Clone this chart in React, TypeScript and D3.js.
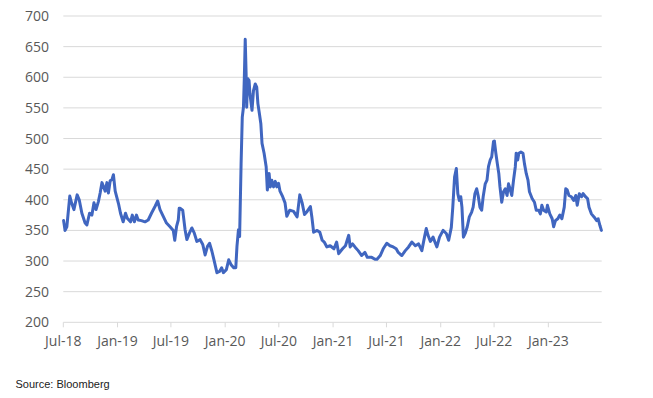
import React from "react";
import * as d3 from "d3";

const W = 653;
const H = 398;

const yTicks = [200, 250, 300, 350, 400, 450, 500, 550, 600, 650, 700];
const xTickDates = [
  "2018-07-01", "2019-01-01", "2019-07-01", "2020-01-01", "2020-07-01",
  "2021-01-01", "2021-07-01", "2022-01-01", "2022-07-01", "2023-01-01",
];
const sourceNote = "Source: Bloomberg";

// [date, value]
const series2018: [string, number][] = [
  ["2018-07-02", 366], ["2018-07-07", 350], ["2018-07-13", 356], ["2018-07-23", 406],
  ["2018-07-29", 395], ["2018-08-06", 384], ["2018-08-17", 408], ["2018-08-24", 400],
  ["2018-09-02", 378], ["2018-09-13", 362], ["2018-09-19", 359], ["2018-09-28", 378],
  ["2018-10-06", 375], ["2018-10-13", 395], ["2018-10-20", 384], ["2018-10-28", 397],
  ["2018-11-03", 411], ["2018-11-09", 428], ["2018-11-14", 422], ["2018-11-20", 414],
  ["2018-11-26", 428], ["2018-12-01", 411], ["2018-12-07", 431], ["2018-12-13", 433],
  ["2018-12-18", 441], ["2018-12-24", 414], ["2018-12-30", 403],
];
const series2019: [string, number][] = [
  ["2019-01-05", 392], ["2019-01-11", 378], ["2019-01-20", 364], ["2019-01-28", 378],
  ["2019-02-03", 370], ["2019-02-14", 364], ["2019-02-20", 375], ["2019-02-27", 364],
  ["2019-03-06", 375], ["2019-03-12", 367], ["2019-03-23", 366], ["2019-04-04", 364],
  ["2019-04-15", 367], ["2019-04-26", 378], ["2019-05-08", 389], ["2019-05-17", 398],
  ["2019-05-25", 384], ["2019-06-05", 373], ["2019-06-16", 362], ["2019-06-28", 356],
  ["2019-07-09", 350], ["2019-07-14", 334], ["2019-07-20", 356], ["2019-07-26", 367],
  ["2019-07-29", 386], ["2019-08-01", 386], ["2019-08-10", 383], ["2019-08-18", 351],
  ["2019-08-24", 335], ["2019-09-02", 346], ["2019-09-10", 354], ["2019-09-18", 346],
  ["2019-09-27", 332], ["2019-10-08", 335], ["2019-10-17", 327], ["2019-10-25", 310],
  ["2019-11-02", 324], ["2019-11-09", 329], ["2019-11-17", 316], ["2019-11-25", 300],
  ["2019-12-04", 281], ["2019-12-13", 283], ["2019-12-20", 289], ["2019-12-26", 281],
];
const series2020: [string, number][] = [
  ["2020-01-05", 286], ["2020-01-13", 302], ["2020-01-21", 294], ["2020-01-30", 289],
  ["2020-02-06", 289], ["2020-02-10", 324], ["2020-02-15", 351], ["2020-02-19", 340],
  ["2020-02-24", 459], ["2020-02-28", 535], ["2020-03-03", 551], ["2020-03-06", 600],
  ["2020-03-09", 662], ["2020-03-12", 606], ["2020-03-14", 551], ["2020-03-17", 598],
  ["2020-03-22", 595], ["2020-03-25", 573], ["2020-04-01", 546], ["2020-04-06", 578],
  ["2020-04-12", 589], ["2020-04-17", 584], ["2020-04-21", 557], ["2020-04-26", 541],
  ["2020-05-01", 524], ["2020-05-05", 492], ["2020-05-12", 476], ["2020-05-19", 454],
  ["2020-05-23", 416], ["2020-05-29", 443], ["2020-06-02", 421], ["2020-06-07", 432],
  ["2020-06-13", 421], ["2020-06-19", 430], ["2020-06-24", 421], ["2020-06-30", 427],
  ["2020-07-05", 414], ["2020-07-14", 405], ["2020-07-22", 395], ["2020-07-28", 373],
  ["2020-08-07", 383], ["2020-08-20", 381], ["2020-09-01", 372], ["2020-09-10", 408],
  ["2020-09-18", 395], ["2020-09-26", 376], ["2020-10-05", 381], ["2020-10-16", 389],
  ["2020-10-21", 372], ["2020-10-27", 347], ["2020-11-08", 350], ["2020-11-17", 347],
  ["2020-11-25", 334], ["2020-12-02", 331], ["2020-12-11", 323], ["2020-12-22", 325],
];
const series2021: [string, number][] = [
  ["2021-01-04", 320], ["2021-01-13", 331], ["2021-01-20", 312], ["2021-02-02", 320],
  ["2021-02-12", 325], ["2021-02-23", 342], ["2021-02-28", 323], ["2021-03-08", 328],
  ["2021-03-16", 323], ["2021-03-27", 317], ["2021-04-08", 309], ["2021-04-19", 314],
  ["2021-04-27", 306], ["2021-05-12", 306], ["2021-05-23", 303], ["2021-05-30", 303],
  ["2021-06-10", 309], ["2021-06-20", 320], ["2021-07-02", 329], ["2021-07-13", 325],
  ["2021-07-24", 323], ["2021-08-03", 320], ["2021-08-10", 314], ["2021-08-22", 309],
  ["2021-09-03", 317], ["2021-09-14", 323], ["2021-09-25", 331], ["2021-10-07", 325],
  ["2021-10-18", 328], ["2021-10-29", 317], ["2021-11-07", 339], ["2021-11-13", 353],
  ["2021-11-19", 342], ["2021-11-27", 332], ["2021-12-06", 339], ["2021-12-14", 329],
  ["2021-12-19", 323], ["2021-12-28", 339],
];
const series2022: [string, number][] = [
  ["2022-01-09", 350], ["2022-01-20", 345], ["2022-01-28", 334], ["2022-02-06", 355],
  ["2022-02-11", 388], ["2022-02-17", 437], ["2022-02-23", 451], ["2022-02-28", 410],
  ["2022-03-05", 399], ["2022-03-10", 405], ["2022-03-14", 388], ["2022-03-19", 339],
  ["2022-03-25", 345], ["2022-04-01", 356], ["2022-04-08", 372], ["2022-04-16", 380],
  ["2022-04-21", 388], ["2022-04-27", 410], ["2022-05-03", 418], ["2022-05-08", 407],
  ["2022-05-14", 388], ["2022-05-20", 383], ["2022-05-25", 405], ["2022-06-01", 426],
  ["2022-06-07", 432], ["2022-06-12", 454], ["2022-06-18", 465], ["2022-06-23", 470],
  ["2022-06-29", 495], ["2022-07-02", 496], ["2022-07-07", 476], ["2022-07-12", 459],
  ["2022-07-17", 443], ["2022-07-21", 421], ["2022-07-27", 396], ["2022-08-02", 413],
  ["2022-08-08", 418], ["2022-08-14", 407], ["2022-08-19", 426], ["2022-08-24", 418],
  ["2022-08-30", 407], ["2022-09-05", 432], ["2022-09-11", 454], ["2022-09-14", 476],
  ["2022-09-19", 465], ["2022-09-23", 476], ["2022-09-30", 478], ["2022-10-07", 476],
  ["2022-10-12", 459], ["2022-10-18", 443], ["2022-10-24", 432], ["2022-10-29", 413],
  ["2022-11-07", 402], ["2022-11-15", 396], ["2022-11-21", 383], ["2022-11-29", 383],
  ["2022-12-05", 377], ["2022-12-10", 391], ["2022-12-16", 383], ["2022-12-25", 380],
  ["2022-12-29", 391],
];
const series2023: [string, number][] = [
  ["2023-01-06", 377], ["2023-01-14", 369], ["2023-01-19", 356], ["2023-01-25", 366],
  ["2023-02-02", 369], ["2023-02-09", 375], ["2023-02-16", 369], ["2023-02-24", 388],
  ["2023-03-01", 418], ["2023-03-06", 416], ["2023-03-12", 407], ["2023-03-20", 405],
  ["2023-03-28", 399], ["2023-04-04", 407], ["2023-04-09", 391], ["2023-04-16", 410],
  ["2023-04-24", 405], ["2023-04-29", 410], ["2023-05-07", 405], ["2023-05-14", 402],
  ["2023-05-19", 388], ["2023-05-27", 377], ["2023-06-05", 372], ["2023-06-14", 366],
  ["2023-06-19", 369], ["2023-06-25", 358], ["2023-06-30", 350],
];

const parse = d3.timeParse("%Y-%m-%d");

export default function App() {
  const data = [...series2018, ...series2019, ...series2020, ...series2021, ...series2022, ...series2023]
    .map(([d, v]) => ({ date: parse(d) as Date, value: v }));

  const left = 63.3;
  const right = 601.7;
  const x = d3.scaleTime()
    .domain([parse("2018-07-01") as Date, parse("2023-07-01") as Date])
    .range([left, right]);
  const y = d3.scaleLinear().domain([200, 700]).range([322.3, 16]);

  const line = d3.line<{ date: Date; value: number }>()
    .x((d) => x(d.date))
    .y((d) => y(d.value))
    .curve(d3.curveLinear);

  const fmt = d3.timeFormat("%b-%y");
  const font = "'Open Sans', 'Liberation Sans', Arial, sans-serif";

  return (
    <svg width={W} height={H} style={{ position: "absolute", left: 0, top: 0, background: "#fff" }}>
      <rect x={0} y={0} width={W} height={H} fill="#ffffff" />
      {yTicks.map((t) => (
        <g key={t}>
          <line x1={left} x2={right} y1={y(t)} y2={y(t)} stroke="#d9d9d9" strokeWidth={1} />
          <text x={49} y={y(t) + 5} textAnchor="end" fontSize={14} fill="#595959" fontFamily={font}>
            {t}
          </text>
        </g>
      ))}
      {xTickDates.map((s) => {
        const d = parse(s) as Date;
        const xx = x(d);
        return (
          <g key={s}>
            <line x1={xx} x2={xx} y1={y(200)} y2={y(200) + 5} stroke="#d9d9d9" strokeWidth={1} />
            <text x={xx} y={345.5} textAnchor="middle" fontSize={14} fill="#595959" fontFamily={font}>
              {fmt(d)}
            </text>
          </g>
        );
      })}
      <path d={line(data) || ""} fill="none" stroke="#4066C0" strokeWidth={3} strokeLinejoin="round" strokeLinecap="round" />
      <text x={15.5} y={388} fontSize={11} fill="#222" fontFamily="'Liberation Sans', Arial, sans-serif">
        {sourceNote}
      </text>
    </svg>
  );
}
